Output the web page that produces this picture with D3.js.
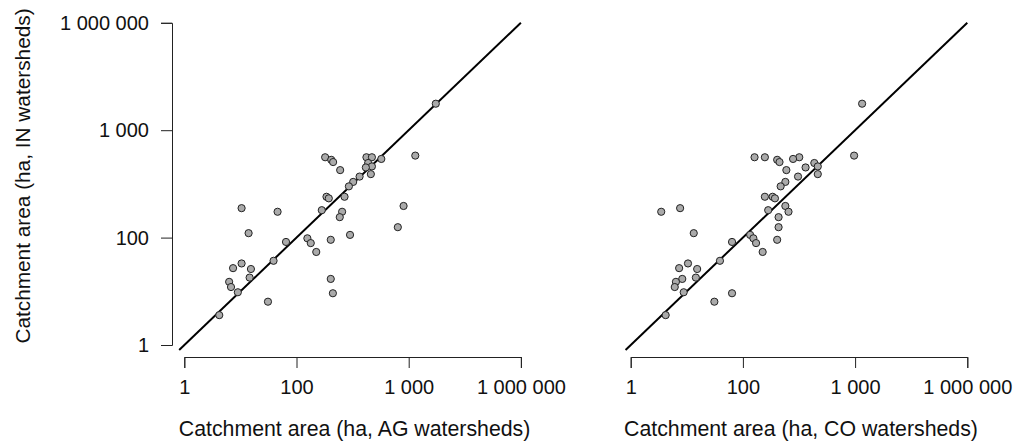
<!DOCTYPE html>
<html>
<head>
<meta charset="utf-8">
<script src="https://cdn.jsdelivr.net/npm/d3@7"></script>
<style>
  body { margin: 0; background: #fff; }
  text { font-family: "Liberation Sans", Arial, sans-serif; fill: #111; }
</style>
</head>
<body>
<svg></svg>
<script>
const width = 1017
const height = 445

// axis ticks (same on both axes)
const tickValues = [1, 100, 1000, 1000000]
const tickLabels = ["1", "100", "1 000", "1 000 000"]

// catchment area, IN watersheds (y, shared by both panels)
const areaIN = [5500, 580, 560, 560, 560, 540, 530, 505, 495, 460, 450, 425, 390, 370, 330, 300,
  240, 240, 232, 197, 188, 180, 174, 174, 155, 125, 110, 106, 97, 91, 83, 79, 54, 37, 33,
  27, 26, 18, 17, 15, 12, 9.6, 9.2, 6.4, 3.6]
// catchment area, AG watersheds (x, left panel)
const areaAG = [5300, 1500, 180, 420, 470, 570, 204, 212, 435, 470, 415, 245, 460, 365, 320, 293,
  185, 268, 194, 900, 10.5, 168, 46, 255, 243, 800, 14, 300, 125, 202, 65, 134, 150, 39, 10.5,
  7.4, 15.4, 14.6, 202, 6.3, 6.8, 9.0, 211, 31, 4.2]
// catchment area, CO watersheds (x, right panel)
const areaCO = [1540, 980, 127, 157, 318, 280, 202, 212, 433, 465, 362, 244, 465, 310, 239, 217,
  157, 184, 193, 239, 7.6, 168, 3.5, 255, 208, 208, 13.3, 116, 124, 202, 64, 131, 150, 39, 10.5,
  7.3, 15.3, 14.5, 8.3, 6.4, 6.1, 8.8, 64, 31, 4.2]

// 1:1 line extent
const lineExtent = [0.81, 1000000]

const svg = d3.select('svg')
  .attr('width', width)
  .attr('height', height)

const step = 112.2
const y = d3.scaleLog()
  .domain(tickValues)
  .range(tickValues.map((d, i) => 345 - i * 107.4))

function panel(x0, xData, xTitle, showY) {
  const x = d3.scaleLog()
    .domain(tickValues)
    .range(tickValues.map((d, i) => x0 + i * step))

  const g = svg.append("g")

  // x axis
  const xAxis = d3.axisBottom(x)
    .tickValues(tickValues)
    .tickFormat((d, i) => tickLabels[i])
    .tickSize(11)
    .tickPadding(6)
  const gx = g.append("g")
    .attr("transform", "translate(0,357)")
    .call(xAxis)
  gx.select(".domain").attr("stroke", "#222")
  gx.selectAll(".tick line").attr("stroke", "#222")
  gx.selectAll(".tick text")
    .attr("font-size", 20)
    .attr("font-family", "Liberation Sans, Arial, sans-serif")
    .attr("fill", "#111")
    .attr("dy", "1em")

  g.append("text")
    .attr("x", x0 + 1.5 * step + 2)
    .attr("y", 436)
    .attr("text-anchor", "middle")
    .attr("font-size", 21.3)
    .text(xTitle)

  if (showY) {
    const yAxis = d3.axisLeft(y)
      .tickValues(tickValues)
      .tickFormat((d, i) => tickLabels[i])
      .tickSize(11)
      .tickPadding(12)
    const gy = g.append("g")
      .attr("transform", "translate(172,0)")
      .call(yAxis)
    gy.select(".domain").attr("stroke", "#222")
    gy.selectAll(".tick line").attr("stroke", "#222")
    gy.selectAll(".tick text")
      .attr("font-size", 20)
      .attr("font-family", "Liberation Sans, Arial, sans-serif")
      .attr("fill", "#111")

    g.append("text")
      .attr("transform", "translate(30,176) rotate(-90)")
      .attr("text-anchor", "middle")
      .attr("font-size", 20.8)
      .text("Catchment area (ha, IN watersheds)")
  }

  // 1:1 line
  g.append("line")
    .attr("x1", x(lineExtent[0]))
    .attr("y1", y(lineExtent[0]))
    .attr("x2", x(lineExtent[1]))
    .attr("y2", y(lineExtent[1]))
    .attr("stroke", "#000")
    .attr("stroke-width", 2)

  g.append("g")
    .selectAll("circle")
    .data(xData)
    .enter().append("circle")
      .attr("cx", d => x(d))
      .attr("cy", (d, i) => y(areaIN[i]))
      .attr("r", 3.6)
      .attr("fill", "#aaaaaa")
      .attr("stroke", "#222")
      .attr("stroke-width", 1)
}

panel(184.3, areaAG, "Catchment area (ha, AG watersheds)", true)
panel(630.7, areaCO, "Catchment area (ha, CO watersheds)", false)
</script>
</body>
</html>
